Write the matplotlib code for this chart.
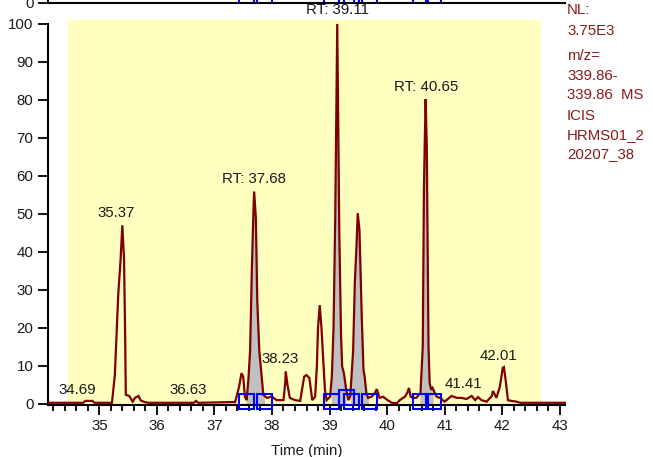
import numpy as np
import matplotlib
matplotlib.use('Agg')
import matplotlib.pyplot as plt

plt.rcParams['font.family'] = ['Liberation Sans', 'DejaVu Sans']
plt.rcParams['font.size'] = 10.8

# chromatogram trace (time in min, relative abundance)
times = [34.10, 34.72, 34.76, 34.88, 34.92, 35.22, 35.27, 35.33, 35.37, 35.40,
         35.43, 35.45, 35.46, 35.52, 35.58, 35.62, 35.68, 35.72, 35.79, 35.85,
         36.64, 36.68, 36.72, 37.36, 37.43, 37.47, 37.50, 37.53, 37.56, 37.59,
         37.62, 37.65, 37.675, 37.69, 37.72, 37.745, 37.78, 37.85, 37.91, 38.00,
         38.08, 38.20, 38.23, 38.24, 38.27, 38.31, 38.40, 38.49, 38.56, 38.60,
         38.65, 38.70, 38.75, 38.78, 38.80, 38.83, 38.86, 38.89, 38.92, 38.95,
         39.01, 39.04, 39.07, 39.10, 39.134, 39.17, 39.20, 39.22, 39.25, 39.29,
         39.33, 39.36, 39.41, 39.44, 39.47, 39.49, 39.52, 39.56, 39.59, 39.61,
         39.64, 39.67, 39.73, 39.79, 39.82, 39.87, 39.93, 39.99, 40.08, 40.17,
         40.22, 40.31, 40.35, 40.38, 40.41, 40.45, 40.51, 40.58, 40.62, 40.64,
         40.655, 40.67, 40.69, 40.72, 40.74, 40.77, 40.79, 40.86, 40.92, 41.00,
         41.12, 41.21, 41.29, 41.38, 41.47, 41.53, 41.58, 41.64, 41.73, 41.82,
         41.84, 41.90, 41.96, 42.01, 42.03, 42.06, 42.10, 42.16, 42.25, 42.31,
         43.12]
abund = [0.3, 0.3, 0.8, 0.8, 0.3, 0.3, 7.6, 29, 38, 47,
         38, 17, 2.4, 2.1, 0.6, 1.6, 2.1, 0.9, 0.5, 0.3,
         0.3, 0.8, 0.3, 0.5, 4.6, 8.1, 7.2, 1.9, 1.0, 6.3,
         14, 35, 49, 55.9, 49, 27, 14, 2.4, 1.6, 1.9,
         1.0, 1.0, 5.5, 8.5, 5.0, 1.6, 1.0, 0.8, 7.2, 7.6,
         6.8, 1.0, 1.9, 9.8, 20, 26, 20, 11.6, 3.7, 1.0,
         1.9, 7.2, 20, 50, 100, 45, 18, 9.8, 8.1, 3.7,
         1.0, 2.0, 14, 32, 42, 50.2, 45.8, 23, 9, 7.2,
         2.9, 1.6, 1.9, 2.9, 3.9, 1.6, 1.9, 1.2, 0.3, 0.2,
         1.0, 1.9, 2.9, 4.2, 1.9, 1.6, 1.6, 2.9, 15, 56,
         69, 80.2, 67.7, 15, 5.4, 3.7, 4.2, 1.9, 1.6, 0.6,
         2.1, 1.6, 1.6, 1.3, 2.1, 1.0, 1.8, 1.0, 0.6, 2.1,
         3.4, 1.6, 4.6, 9.5, 9.7, 6.3, 1.0, 0.8, 0.6, 0.3,
         0.3]

# integrated peak windows (start, end)
peak_windows = [(37.55, 37.87), (39.03, 39.29), (39.37, 39.68), (40.57, 40.80)]

# integration boundary boxes
box_t = [37.55, 37.87, 39.03, 39.29, 39.37, 39.68, 40.57, 40.80]
box_y = [0.9, 0.9, 0.9, 1.7, 0.9, 0.9, 0.9, 0.9]

# peak labels
label_text = ['34.69', '35.37', '36.63', 'RT: 37.68', '38.23', 'RT: 39.11',
              'RT: 40.65', '41.41', '42.01']
label_x = [34.61, 35.29, 36.55, 37.69, 38.14, 39.13, 40.68, 41.33, 41.93]
label_y = [3.7, 50.3, 3.7, 59.2, 11.7, 103.6, 83.3, 5.3, 12.6]

info_lines = ['NL:', '3.75E3', 'm/z=', '339.86-', '339.86  MS', 'ICIS',
              'HRMS01_2', '20207_38']
info_ypix = [10, 31, 56.5, 76.5, 95, 115.5, 135, 154.5]

trace_color = '#800000'
text_color = '#1a1a1a'
W, H = 653, 457

fig = plt.figure(figsize=(W / 100, H / 100), dpi=100)
fig.patch.set_facecolor('white')

ax = fig.add_axes([47.5 / W, 52.3 / H, 518 / W, 386.5 / H])
ax.set_xlim(34.1, 43.1)
ax.set_ylim(-0.2, 101.5)

# yellow plot region
ax.fill_between([34.45, 42.67], 0, 101, color='#FFFFC0', lw=0, zorder=0)

t = np.array(times)
a = np.array(abund)
for t0, t1 in peak_windows:
    m = (t > t0) & (t < t1)
    tt = np.concatenate([[t0], t[m], [t1]])
    aa = np.concatenate([[np.interp(t0, t, a)], a[m], [np.interp(t1, t, a)]])
    ax.fill_between(tt, 0, aa, color='#C0C0C0', lw=0, zorder=1)

ax.plot(t, a, color=trace_color, lw=1.6, zorder=3, solid_joinstyle='miter')
ax.plot(box_t, box_y, 's', ms=10.8, mfc='none', mec='#0000FF', mew=1.5, zorder=4,
        clip_on=False)

for s, x, y in zip(label_text, label_x, label_y):
    ax.text(x, y, s, ha='center', va='center', color=text_color, fontsize=10.8,
            clip_on=False)

for sp in ['top', 'right']:
    ax.spines[sp].set_visible(False)
for sp in ['left', 'bottom']:
    ax.spines[sp].set_linewidth(1.5)
ax.spines['left'].set_bounds(-0.2, 100)

ax.set_xticks(range(35, 44))
ax.set_xticks(np.arange(34.2, 43.05, 0.2), minor=True)
ax.set_yticks(range(0, 101, 10))
ax.tick_params(axis='x', which='major', length=7, width=1.3, pad=3.5,
               labelcolor=text_color)
ax.tick_params(axis='x', which='minor', length=4.5, width=1.3)
ax.tick_params(axis='y', which='major', length=7.5, width=1.3, pad=2.5,
               labelcolor=text_color)
ax.set_xlabel('Time (min)', color=text_color, fontsize=10.8, labelpad=8)

# remnant of the chart above, cut off at the top edge
ax_top = fig.add_axes([47.5 / W, (H - 3.3) / H, 518 / W, 386.5 / H])
ax_top.set_xlim(34.1, 43.1)
ax_top.set_ylim(-0.2, 101.5)
ax_top.patch.set_visible(False)
for sp in ['top', 'right']:
    ax_top.spines[sp].set_visible(False)
for sp in ['left', 'bottom']:
    ax_top.spines[sp].set_linewidth(1.5)
ax_top.set_xticks([])
ax_top.set_yticks([0])
ax_top.tick_params(axis='y', length=7.5, width=1.3, pad=2.5, labelcolor=text_color)
ax_top.plot(box_t, box_y, 's', ms=10.8, mfc='none', mec='#0000FF', mew=1.5)

for s, yp in zip(info_lines, info_ypix):
    fig.text(567 / W, 1 - yp / H, s, ha='left', va='center', color='#8B1A1A',
             fontsize=10.8)

fig.savefig('out.png', dpi=100)
